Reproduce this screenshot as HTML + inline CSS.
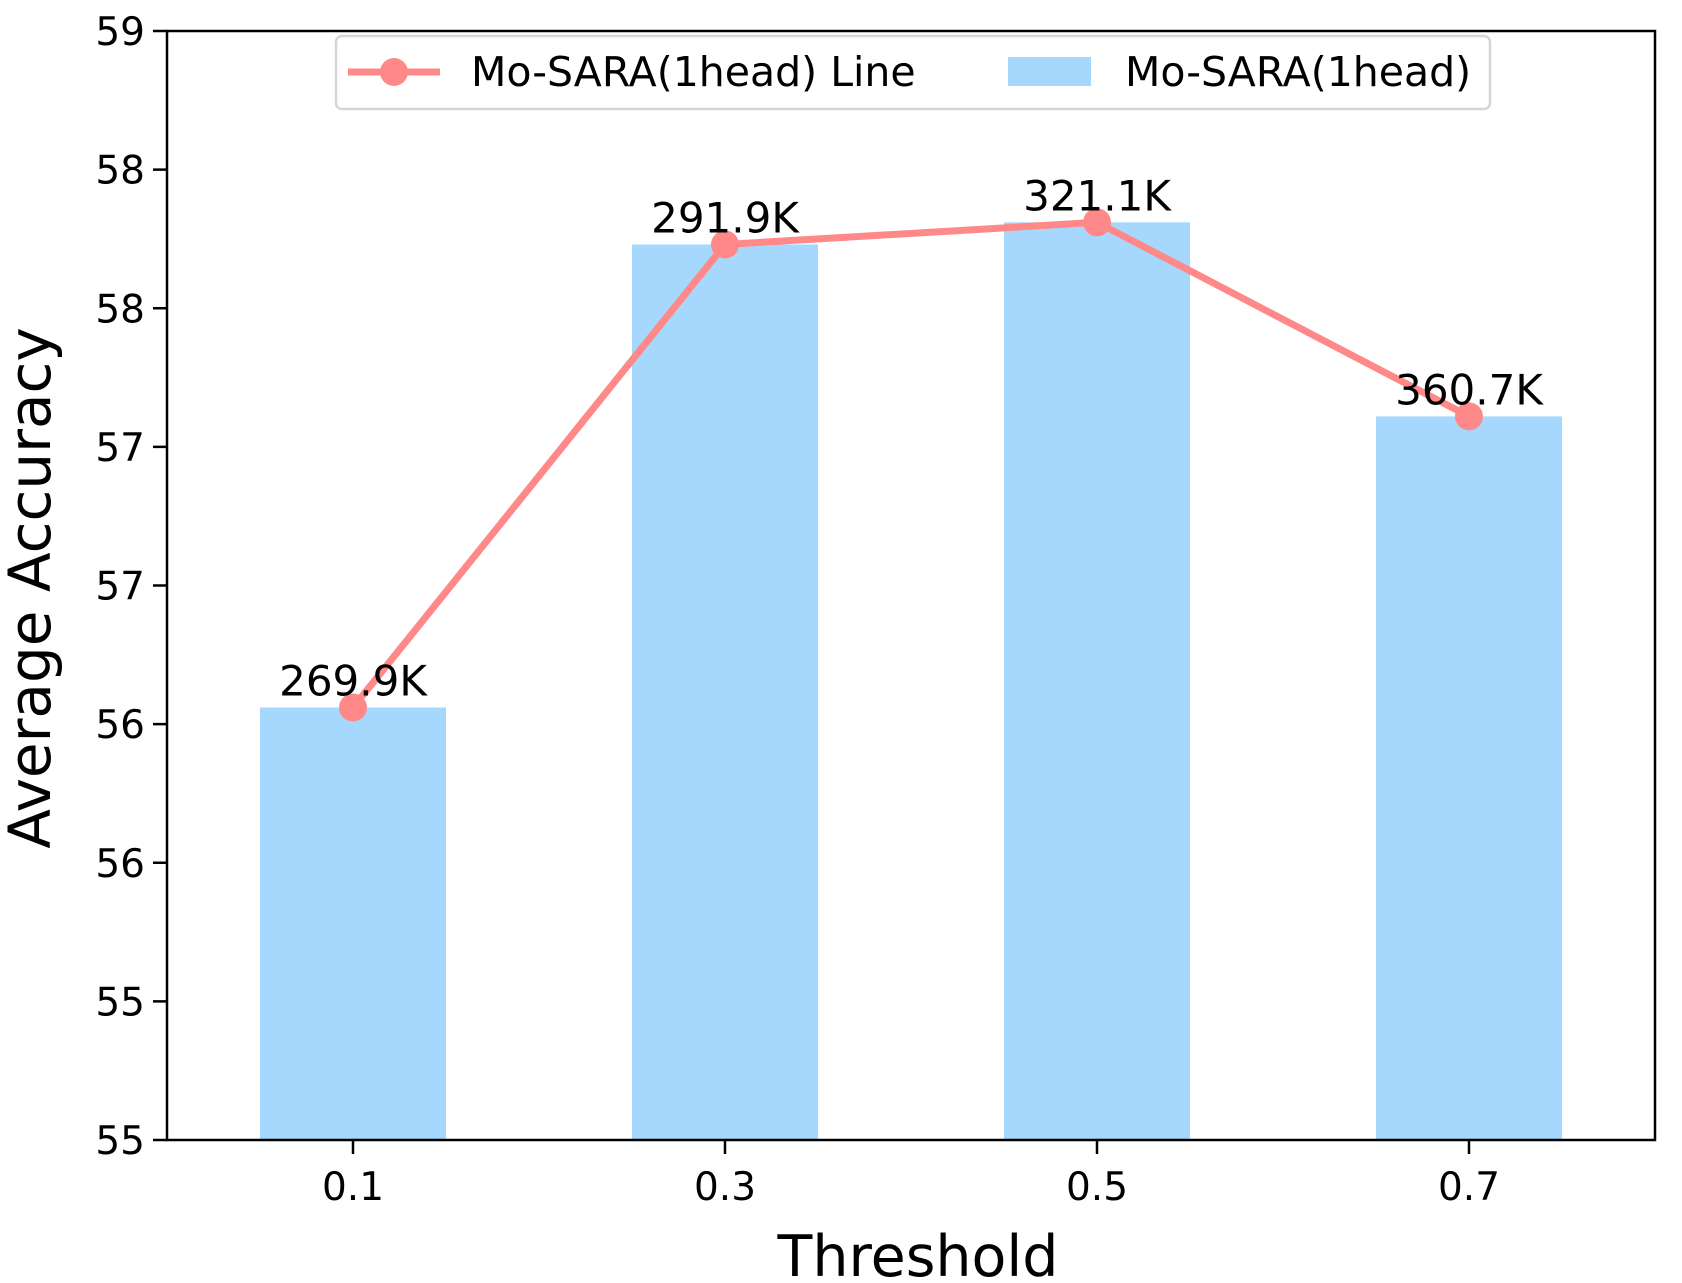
<!DOCTYPE html>
<html><head><meta charset="utf-8"><style>
html,body{margin:0;padding:0;background:#fff}
svg{display:block;font-family:"DejaVu Sans","Liberation Sans",sans-serif}
</style></head><body>
<svg id="chart" width="1682" height="1283" viewBox="0 0 1682 1283" xmlns="http://www.w3.org/2000/svg">
<rect x="0" y="0" width="1682" height="1283" fill="#fff"/>
<g id="bars"></g>
<g id="line"></g>
<g id="labels"></g>
<rect x="167" y="31" width="1488" height="1109" fill="none" stroke="#000" stroke-width="2.5"/>
<g id="yticks"></g>
<g id="xticks"></g>
<text x="50" y="588" font-size="58" text-anchor="middle" transform="rotate(-90 50 588)">Average Accuracy</text>
<text x="918" y="1276" font-size="57" text-anchor="middle">Threshold</text>
<g>
<rect x="336" y="36" width="1154" height="73" rx="6" fill="#fff" stroke="#d6d6d6" stroke-width="2.5"/>
<line x1="348" y1="72" x2="440" y2="72" stroke="#ff8888" stroke-width="7"/>
<circle cx="394" cy="72" r="14" fill="#ff8888"/>
<text x="471" y="86" font-size="41">Mo-SARA(1head) Line</text>
<rect x="1008" y="57" width="83" height="29" fill="#a6d8fd"/>
<text x="1125" y="86" font-size="41">Mo-SARA(1head)</text>
</g>
</svg>
<script>
const categories = ["0.1","0.3","0.5","0.7"];
const accuracy = [56.56, 58.23, 58.31, 57.61];
const paramLabels = ["269.9K","291.9K","321.1K","360.7K"];
const yTicks = [55,55.5,56,56.5,57,57.5,58,58.5,59];
const yTickLabels = ["55","55","56","56","57","57","58","58","59"];

const NS="http://www.w3.org/2000/svg";
const L=167,R=1655,T=31,B=1140,YMIN=55,YMAX=59;
const band=(R-L)/categories.length;
function xs(i){return L+band*(i+0.5);}
function ys(v){return B-(v-YMIN)/(YMAX-YMIN)*(B-T);}
function mk(tag,attrs,parent){const e=document.createElementNS(NS,tag);for(const k in attrs)e.setAttribute(k,attrs[k]);parent.appendChild(e);return e;}
const gb=document.getElementById('bars'),gl=document.getElementById('line'),glab=document.getElementById('labels');
const gy=document.getElementById('yticks'),gx=document.getElementById('xticks');
const bw=band*0.5;
accuracy.forEach((v,i)=>{
  const r=mk('rect',{x:xs(i)-bw/2,y:ys(v),width:bw,height:B-ys(v),fill:'#a6d8fd'},gb);
  
  
});
const pl=mk('polyline',{points:accuracy.map((v,i)=>xs(i)+','+ys(v)).join(' '),fill:'none',stroke:'#ff8888','stroke-width':7,'stroke-linejoin':'round'},gl);


accuracy.forEach((v,i)=>{
  const c=mk('circle',{cx:xs(i),cy:ys(v),r:14,fill:'#ff8888'},gl);
  
  
  const t=mk('text',{x:xs(i),y:ys(v)-12,'font-size':42,'text-anchor':'middle'},glab);
  t.textContent=paramLabels[i];
  
  
});
yTicks.forEach((v,i)=>{
  const y=ys(v);
  const l=mk('line',{x1:L-14,x2:L,y1:y,y2:y,stroke:'#000','stroke-width':2.5},gy);
  
  
  const t=mk('text',{x:L-22,y:y+14,'font-size':39,'text-anchor':'end'},gy);
  t.textContent=yTickLabels[i];
  
  
});
categories.forEach((c,i)=>{
  const x=xs(i);
  const l=mk('line',{x1:x,x2:x,y1:B,y2:B+14,stroke:'#000','stroke-width':2.5},gx);
  
  
  const t=mk('text',{x:x,y:B+60,'font-size':39,'text-anchor':'middle'},gx);
  t.textContent=c;
  
  
});
</script>
</body></html>
